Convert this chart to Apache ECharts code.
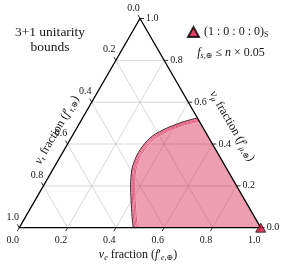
<!DOCTYPE html>
<html><head><meta charset="utf-8">
<script src="https://cdn.jsdelivr.net/npm/echarts@6/dist/echarts.min.js"></script>
<style>html,body{margin:0;padding:0;background:#fff}#c{width:281px;height:266px}</style>
</head><body><div id="c"></div>
<script>
// ---- data (ternary fractions given as [f_e, f_mu]; f_tau = 1 - f_e - f_mu) ----
const tickValues = [0, 0.2, 0.4, 0.6, 0.8, 1.0];
const tickLabels = ['0.0', '0.2', '0.4', '0.6', '0.8', '1.0'];
const gridValues = [0.2, 0.4, 0.6, 0.8];
const boundOuter = [[0.472,0.000],[0.440,0.054],[0.397,0.132],[0.359,0.204],[0.328,0.276],[0.317,0.324],[0.314,0.372],[0.327,0.429],[0.361,0.467],[0.415,0.501],[0.475,0.525]];
const bound1 = [[0.478,0.000],[0.446,0.054],[0.403,0.132],[0.365,0.204],[0.334,0.275],[0.323,0.322],[0.320,0.368],[0.332,0.423],[0.365,0.461],[0.418,0.495],[0.481,0.519]];
const bound2 = [[0.484,0.000],[0.452,0.054],[0.409,0.131],[0.371,0.203],[0.340,0.274],[0.329,0.320],[0.326,0.365],[0.337,0.418],[0.369,0.456],[0.421,0.490],[0.486,0.514]];
const bound3 = [[0.490,0.000],[0.458,0.053],[0.415,0.130],[0.377,0.202],[0.346,0.272],[0.335,0.318],[0.332,0.362],[0.342,0.413],[0.373,0.451],[0.424,0.485],[0.491,0.509]];
const sourcePoint = [1, 0];
const sourceName = '(1 : 0 : 0 : 0)S';

const F = '"Liberation Serif","DejaVu Serif",serif';
const TXT = '#151515';
const S3 = Math.sqrt(3) / 2;
function tern(fe, fm) { return [fe + fm / 2, fm * S3]; }

function crPath(pts) {
  const f = v => v.toFixed(2);
  let d = 'M' + f(pts[0][0]) + ' ' + f(pts[0][1]);
  for (let i = 0; i < pts.length - 1; i++) {
    const p0 = pts[i - 1] || pts[i], p1 = pts[i], p2 = pts[i + 1], p3 = pts[i + 2] || pts[i + 1];
    const c1 = [p1[0] + (p2[0] - p0[0]) / 6, p1[1] + (p2[1] - p0[1]) / 6];
    const c2 = [p2[0] - (p3[0] - p1[0]) / 6, p2[1] - (p3[1] - p1[1]) / 6];
    d += ' C' + f(c1[0]) + ' ' + f(c1[1]) + ' ' + f(c2[0]) + ' ' + f(c2[1]) + ' ' + f(p2[0]) + ' ' + f(p2[1]);
  }
  return d;
}

function renderTernary(params, api) {
  const P = (fe, fm) => api.coord(tern(fe, fm));
  const ch = [];
  const line = (a, b, stroke, w) => ({ type: 'line', shape: { x1: a[0], y1: a[1], x2: b[0], y2: b[1] }, style: { stroke: stroke, lineWidth: w }, silent: true });
  // grid lines
  gridValues.forEach(v => {
    ch.push(line(P(v, 0), P(v, 1 - v), '#bdbdbd', 0.6));
    ch.push(line(P(0, v), P(1 - v, v), '#bdbdbd', 0.6));
    ch.push(line(P(1 - v, 0), P(0, 1 - v), '#bdbdbd', 0.6));
  });
  // region fill
  const outerPx = boundOuter.map(p => P(p[0], p[1]));
  const br = P(1, 0);
  const fillD = crPath(outerPx) + ' L' + br[0].toFixed(2) + ' ' + br[1].toFixed(2) + ' Z';
  ch.push({ type: 'path', shape: { pathData: fillD }, style: { fill: 'rgba(214,40,80,0.45)', stroke: null }, silent: true });
  // inner contour lines
  const inner = [bound1, bound2, bound3].map(b => crPath(b.map(p => P(p[0], p[1]))));
  inner.forEach(d => ch.push({ type: 'path', shape: { pathData: d }, style: { fill: null, stroke: 'rgba(255,255,255,0.55)', lineWidth: 1.6 }, silent: true }));
  inner.forEach(d => ch.push({ type: 'path', shape: { pathData: d }, style: { fill: null, stroke: '#d81b4e', lineWidth: 0.7 }, silent: true }));
  ch.push({ type: 'path', shape: { pathData: crPath(outerPx) }, style: { fill: null, stroke: '#3a0a16', lineWidth: 0.9 }, silent: true });
  // frame
  const A = P(0, 0), B = P(1, 0), C = P(0, 1);
  ch.push({ type: 'polygon', shape: { points: [A, B, C] }, style: { fill: null, stroke: '#000', lineWidth: 1.3 }, silent: true });
  // ticks + labels
  const lab = (x, y, t, align) => ({ type: 'text', style: { text: t, x: x, y: y, fontFamily: F, fontSize: 10, fill: TXT, align: align, verticalAlign: 'middle', textAlign: align, textVerticalAlign: 'middle' }, silent: true });
  tickValues.forEach((v, i) => {
    const b = P(v, 0);
    ch.push(line(b, [b[0] - 2, b[1] + 3.46], '#000', 0.8));
    ch.push(lab(b[0] - 6.5, b[1] + 13, tickLabels[i], 'center'));
    const r = P(1 - v, v);
    ch.push(line(r, [r[0] + 4, r[1]], '#000', 0.8));
    ch.push(lab(r[0] + 6, r[1], tickLabels[i], 'left'));
    const l = P(0, 1 - v);
    ch.push(line(l, [l[0] - 2, l[1] - 3.46], '#000', 0.8));
    ch.push(lab(l[0] - 6.5, l[1] - 10.5, tickLabels[i], 'center'));
  });
  return { type: 'group', children: ch };
}

const rich = {
  i: { fontFamily: F, fontSize: 12, fontStyle: 'italic', lineHeight: 14, color: TXT },
  r: { fontFamily: F, fontSize: 12, lineHeight: 14, color: TXT },
  s: { fontFamily: F, fontSize: 8, fontStyle: 'italic', lineHeight: 8, verticalAlign: 'bottom', color: TXT }
};
const richL = {
  i: { fontFamily: F, fontSize: 12, fontStyle: 'italic', lineHeight: 14, color: TXT },
  r: { fontFamily: F, fontSize: 12, lineHeight: 14, color: TXT },
  s: { fontFamily: F, fontSize: 8, fontStyle: 'italic', lineHeight: 8, verticalAlign: 'bottom', color: TXT },
  sr: { fontFamily: F, fontSize: 8, lineHeight: 8, verticalAlign: 'bottom', color: TXT }
};
function gtext(x, y, text, rot, richSet) {
  return { type: 'text', x: x, y: y, rotation: rot, silent: true,
    style: { text: text, rich: richSet, align: 'center', verticalAlign: 'middle', textAlign: 'center', textVerticalAlign: 'middle', fill: TXT } };
}

const chart = echarts.init(document.getElementById('c'), null, { renderer: 'canvas' });
chart.setOption({
  animation: false,
  backgroundColor: '#fff',
  grid: { left: 19.3, right: 20.3, top: 18.5, bottom: 38.3, containLabel: false },
  xAxis: { type: 'value', min: 0, max: 1, show: false },
  yAxis: { type: 'value', min: 0, max: S3, show: false },
  legend: {
    left: 187, top: 26, padding: 0, itemWidth: 11, itemHeight: 10,
    data: [{ name: sourceName, icon: 'triangle' }],
    formatter: () => '{r|(1 : 0 : 0 : 0)}{sr|S}',
    textStyle: { rich: richL }
  },
  graphic: [
    { type: 'text', x: 50, y: 40, silent: true, style: { text: '3+1 unitarity\nbounds', fontFamily: F, fontSize: 13.5, lineHeight: 15, fill: TXT, align: 'center', verticalAlign: 'middle', textAlign: 'center', textVerticalAlign: 'middle' } },
    gtext(231, 53, '{i|f}{s|s,⊕}{r| ≤ }{i|n}{r| × 0.05}', 0, richL),
    gtext(138, 255, '{i|ν}{s|e}{r| fraction (}{i|f}{r|′}{s|e,⊕}{r|)}', 0, rich),
    gtext(57, 130, '{i|ν}{s|τ}{r| fraction (}{i|f}{r|′}{s|τ,⊕}{r|)}', Math.PI / 3, rich),
    gtext(232, 126, '{i|ν}{s|μ}{r| fraction (}{i|f}{r|′}{s|μ,⊕}{r|)}', -Math.PI / 3, rich)
  ],
  series: [
    { type: 'custom', coordinateSystem: 'cartesian2d', data: [[0, 0]], renderItem: renderTernary, clip: false, silent: true, z: 1 },
    { type: 'scatter', name: sourceName, data: [tern(sourcePoint[0], sourcePoint[1])], symbol: 'triangle', symbolSize: [10, 9],
      itemStyle: { color: '#d8103c', borderColor: '#000', borderWidth: 0.9 }, z: 5, silent: true }
  ]
});
</script></body></html>
